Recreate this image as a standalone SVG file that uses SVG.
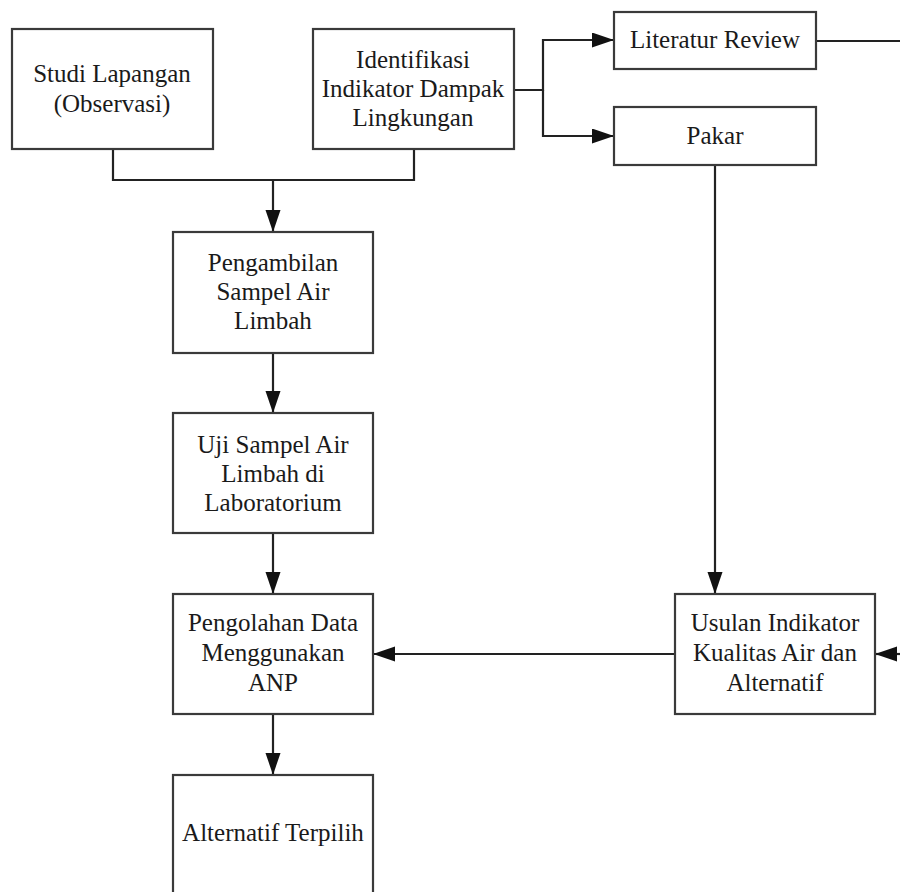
<svg xmlns="http://www.w3.org/2000/svg" width="900" height="892" viewBox="0 0 900 892">
<style>
.box{fill:#fff;stroke:#3a3a3a;stroke-width:2.2}
.t{font-family:"Liberation Serif","Times New Roman",serif;font-size:25px;fill:#1a1a1a;text-anchor:middle}
.c{fill:none;stroke:#222;stroke-width:2.2}
</style>
<defs>
<marker id="ah" markerUnits="userSpaceOnUse" markerWidth="24" markerHeight="16" refX="22" refY="7.5" orient="auto">
<path d="M0,0 L22,7.5 L0,15 z" fill="#111"/>
</marker>
</defs>
<rect width="900" height="892" fill="#fff"/>
<g id="connectors">
<path class="c" d="M113,149 V180 H414 V149"/>
<path class="c" d="M273,180 V232" marker-end="url(#ah)"/>
<path class="c" d="M514,90 H543 V40 H614" marker-end="url(#ah)"/>
<path class="c" d="M543,90 V136 H614" marker-end="url(#ah)"/>
<path class="c" d="M816,41 H900"/>
<path class="c" d="M715,165 V594" marker-end="url(#ah)"/>
<path class="c" d="M273,353 V413" marker-end="url(#ah)"/>
<path class="c" d="M273,533 V594" marker-end="url(#ah)"/>
<path class="c" d="M675,654 H373" marker-end="url(#ah)"/>
<path class="c" d="M900,654 H875" marker-end="url(#ah)"/>
<path class="c" d="M273,714 V775" marker-end="url(#ah)"/>
</g>
<g id="studi">
<rect class="box" x="12" y="29" width="201" height="120"/>
<text class="t" x="112" y="82">Studi Lapangan</text>
<text class="t" x="112" y="112">(Observasi)</text>
</g>
<g id="identifikasi">
<rect class="box" x="313" y="29" width="201" height="120"/>
<text class="t" x="413" y="68">Identifikasi</text>
<text class="t" x="413" y="97">Indikator Dampak</text>
<text class="t" x="413" y="126">Lingkungan</text>
</g>
<g id="literatur">
<rect class="box" x="614" y="12" width="202" height="57"/>
<text class="t" x="715" y="48">Literatur Review</text>
</g>
<g id="pakar">
<rect class="box" x="614" y="107" width="202" height="58"/>
<text class="t" x="715" y="144">Pakar</text>
</g>
<g id="pengambilan">
<rect class="box" x="173" y="232" width="200" height="121"/>
<text class="t" x="273" y="271">Pengambilan</text>
<text class="t" x="273" y="300">Sampel Air</text>
<text class="t" x="273" y="329">Limbah</text>
</g>
<g id="uji">
<rect class="box" x="173" y="413" width="200" height="120"/>
<text class="t" x="273" y="453">Uji Sampel Air</text>
<text class="t" x="273" y="482">Limbah di</text>
<text class="t" x="273" y="511">Laboratorium</text>
</g>
<g id="pengolahan">
<rect class="box" x="173" y="594" width="200" height="120"/>
<text class="t" x="273" y="631">Pengolahan Data</text>
<text class="t" x="273" y="661">Menggunakan</text>
<text class="t" x="273" y="691">ANP</text>
</g>
<g id="usulan">
<rect class="box" x="675" y="594" width="200" height="120"/>
<text class="t" x="775" y="631">Usulan Indikator</text>
<text class="t" x="775" y="661">Kualitas Air dan</text>
<text class="t" x="775" y="691">Alternatif</text>
</g>
<g id="alternatif">
<rect class="box" x="173" y="775" width="200" height="130"/>
<text class="t" x="273" y="841">Alternatif Terpilih</text>
</g>
</svg>
